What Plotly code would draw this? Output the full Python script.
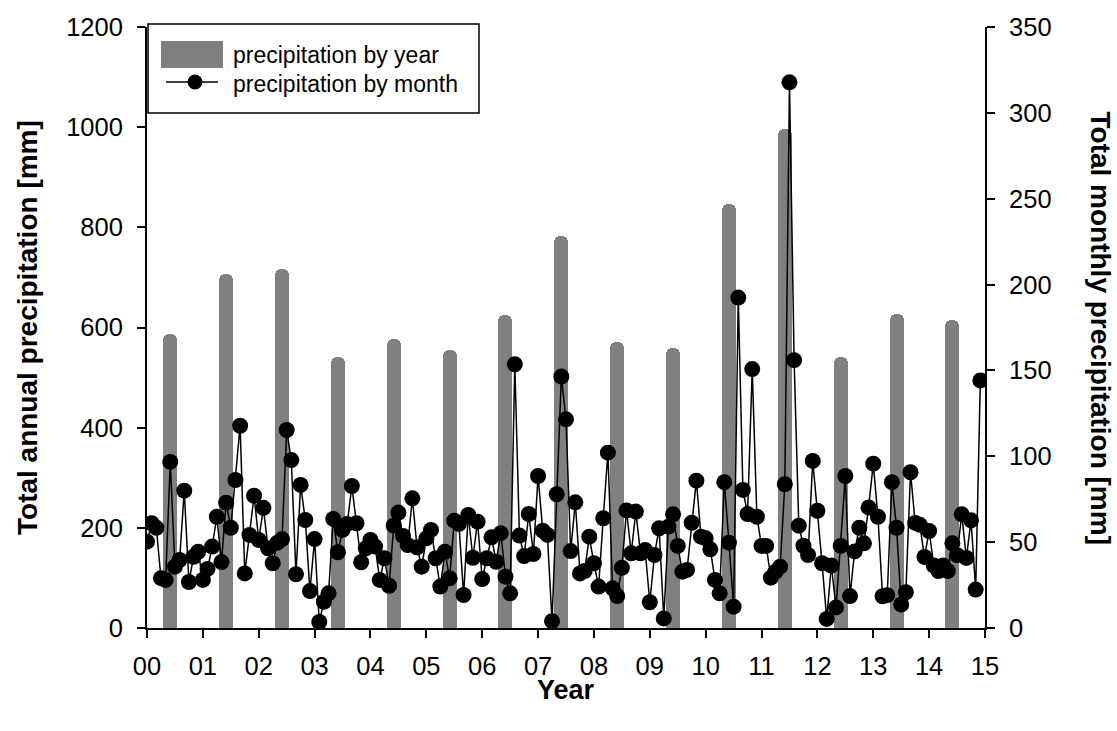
import plotly.graph_objects as go

# ---- data ----
years = list(range(15))
year_labels = ["%02d" % y for y in range(16)]
annual_precip = [588, 707, 716, 541, 577, 555, 624, 782, 572, 560, 847, 996, 541, 626, 615]

monthly_precip = [
    50.3, 61.0, 58.4, 29.0, 28.0, 96.7, 35.7, 39.6, 80.0, 26.8, 41.5, 44.4,
    28.0, 34.4, 47.4, 64.8, 38.4, 73.0, 58.4, 86.2, 117.8, 31.8, 54.2, 77.0,
    51.3, 70.0, 46.4, 37.7, 49.7, 51.8, 115.3, 97.8, 31.3, 83.3, 62.9, 21.5,
    51.8, 3.5, 15.3, 20.2, 63.5, 44.1, 57.1, 60.6, 82.7, 61.0, 38.3, 46.4,
    51.3, 47.4, 28.0, 40.6, 24.6, 59.6, 67.2, 53.6, 48.3, 75.5, 47.0, 35.7,
    52.2, 57.1, 40.6, 24.1, 44.4, 28.9, 62.5, 60.6, 19.2, 65.8, 40.9, 61.9,
    28.5, 40.6, 52.8, 38.6, 55.2, 29.9, 20.2, 153.6, 53.8, 41.9, 66.4, 43.1,
    88.5, 56.7, 54.2, 4.0, 77.9, 146.4, 121.5, 44.8, 73.2, 31.8, 33.2, 53.2,
    37.7, 24.1, 63.9, 102.1, 23.1, 18.6, 35.1, 68.5, 43.5, 67.8, 43.5, 45.4,
    15.0, 42.5, 58.1, 5.6, 59.0, 66.2, 47.8, 32.8, 33.8, 61.3, 85.8, 53.2,
    52.2, 45.8, 28.0, 20.2, 84.9, 49.7, 12.4, 192.4, 80.4, 66.4, 150.8, 64.8,
    47.8, 47.8, 29.3, 32.8, 35.7, 83.7, 317.8, 156.0, 59.6, 47.9, 42.5, 97.3,
    68.3, 37.7, 5.3, 36.4, 12.0, 47.8, 88.5, 18.6, 44.6, 58.4, 49.3, 70.2,
    95.7, 64.8, 18.5, 19.1, 84.9, 58.4, 13.7, 20.8, 90.7, 61.2, 60.1, 41.4,
    56.5, 36.4, 33.2, 36.4, 33.2, 49.3, 42.4, 66.2, 40.8, 62.7, 22.4, 144.2,
]

bar_x = [y + 5 / 12 for y in years]
month_x = [i / 12 for i in range(len(monthly_precip))]

FONT = "Arial, Liberation Sans, sans-serif"

fig = go.Figure()
fig.add_trace(go.Bar(
    x=bar_x, y=annual_precip, width=0.25,
    marker=dict(color="#808080", line=dict(width=0), cornerradius=6),
    name="precipitation by year", showlegend=False,
))
fig.add_trace(go.Scatter(
    x=month_x, y=monthly_precip, yaxis="y2", mode="lines+markers",
    line=dict(color="black", width=1.5),
    marker=dict(color="black", size=16),
    name="precipitation by month", showlegend=False,
))

axis_common = dict(
    showgrid=False, zeroline=False, showline=True, linecolor="black", linewidth=2,
    ticks="outside", ticklen=8, tickwidth=2, tickcolor="black",
    tickfont=dict(family=FONT, size=25.5, color="black"),
)

fig.update_layout(
    width=1117, height=731,
    margin=dict(l=147, r=132, t=27, b=103),
    paper_bgcolor="white", plot_bgcolor="white",
    showlegend=False,
    bargap=0,
    xaxis=dict(range=[0, 15], tickmode="array", tickvals=list(range(16)),
               ticktext=year_labels, ticklabelstandoff=6, **axis_common),
    yaxis=dict(range=[0, 1200], dtick=200, ticklabelstandoff=9, **axis_common),
    yaxis2=dict(range=[0, 350], dtick=50, overlaying="y", side="right",
                ticklabelstandoff=9, **axis_common),
)

# axis titles
fig.add_annotation(text="<b>Year</b>", xref="paper", yref="paper", x=0.5, y=-0.103,
                   xanchor="center", yanchor="middle", showarrow=False,
                   font=dict(family=FONT, size=27, color="black"))
fig.add_annotation(text="<b>Total annual precipitation [mm]</b>", xref="paper", yref="paper",
                   x=(27.5 - 147) / 838, y=0.5, xanchor="center", yanchor="middle",
                   textangle=-90, showarrow=False,
                   font=dict(family=FONT, size=28, color="black"))
fig.add_annotation(text="<b>Total monthly precipitation [mm]</b>", xref="paper", yref="paper",
                   x=(1100 - 147) / 838, y=0.5, xanchor="center", yanchor="middle",
                   textangle=90, showarrow=False,
                   font=dict(family=FONT, size=28, color="black"))

# custom legend
def px(xp):
    return (xp - 147) / 838

def py(yp):
    return (628 - yp) / 601

fig.add_shape(type="rect", xref="paper", yref="paper",
              x0=px(148), x1=px(479), y0=py(113), y1=py(24),
              line=dict(color="black", width=1.5), fillcolor="white", layer="above")
fig.add_shape(type="rect", xref="paper", yref="paper",
              x0=px(161), x1=px(223), y0=py(68), y1=py(41),
              line=dict(width=0), fillcolor="#808080", layer="above")
fig.add_shape(type="line", xref="paper", yref="paper",
              x0=px(166), x1=px(218), y0=py(82), y1=py(82),
              line=dict(color="black", width=1.5), layer="above")
fig.add_shape(type="circle", xref="paper", yref="paper",
              xsizemode="pixel", ysizemode="pixel",
              xanchor=px(195), yanchor=py(82), x0=-7.5, x1=7.5, y0=-7.5, y1=7.5,
              line=dict(color="black", width=0), fillcolor="black", layer="above")
fig.add_annotation(text="precipitation by year", xref="paper", yref="paper",
                   x=px(231), y=py(55), xanchor="left", yanchor="middle", showarrow=False,
                   font=dict(family=FONT, size=23, color="black"))
fig.add_annotation(text="precipitation by month", xref="paper", yref="paper",
                   x=px(231), y=py(84), xanchor="left", yanchor="middle", showarrow=False,
                   font=dict(family=FONT, size=23, color="black"))

fig.write_html("out.html")
